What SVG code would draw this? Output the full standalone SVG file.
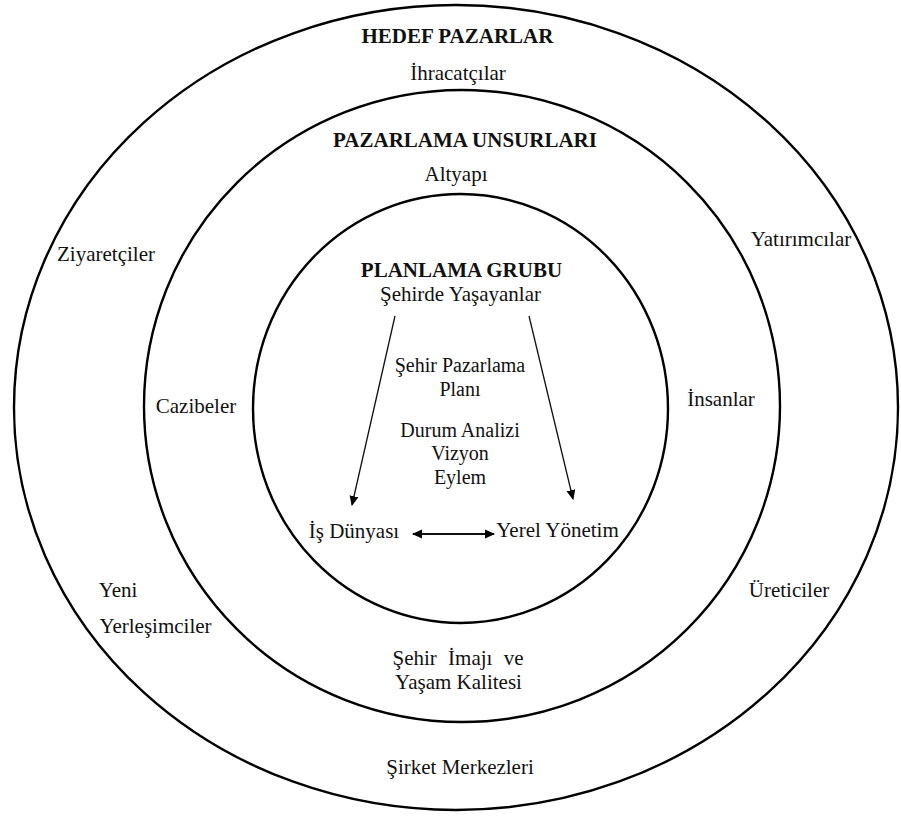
<svg xmlns="http://www.w3.org/2000/svg" width="901" height="816" viewBox="0 0 901 816">
<style>
.ring{fill:none;stroke:#000;stroke-width:2.4}
text{font-size:21px;fill:#111;text-anchor:middle}
.h{font-weight:bold}
.s{font-size:20px}
.ln{stroke:#111;stroke-width:1.3;fill:none}
.ln2{stroke:#111;stroke-width:2;fill:none}
</style>
<defs>
<marker id="ah" viewBox="0 0 10 10" refX="9" refY="5" markerWidth="10" markerHeight="10" markerUnits="userSpaceOnUse" orient="auto-start-reverse">
<path d="M0,0.5 L10,5 L0,9.5 Z" fill="#000"/>
</marker>
</defs>
<rect width="901" height="816" fill="#fff"/>
<g font-family="Liberation Serif, DejaVu Serif, serif">
<g id="outer">
<ellipse class="ring" cx="456" cy="407.5" rx="442" ry="402.5"/>
<text class="h" x="457.5" y="43">HEDEF PAZARLAR</text>
<text x="458" y="80">İhracatçılar</text>
<text x="106" y="261">Ziyaretçiler</text>
<text x="801" y="246">Yatırımcılar</text>
<text x="118" y="597">Yeni</text>
<text x="155.5" y="633">Yerleşimciler</text>
<text x="789" y="597">Üreticiler</text>
<text x="460" y="774">Şirket Merkezleri</text>
</g>
<g id="middle">
<ellipse class="ring" cx="462" cy="406" rx="318" ry="316"/>
<text class="h" x="465" y="147">PAZARLAMA UNSURLARI</text>
<text x="456" y="181">Altyapı</text>
<text x="196" y="413">Cazibeler</text>
<text x="721" y="406">İnsanlar</text>
<text x="458" y="665" word-spacing="6">Şehir İmajı ve</text>
<text x="458.5" y="689">Yaşam Kalitesi</text>
</g>
<g id="inner">
<ellipse class="ring" cx="460.5" cy="408.5" rx="207.5" ry="214.5"/>
<text class="h" x="461.5" y="277">PLANLAMA GRUBU</text>
<text x="460.5" y="301">Şehirde Yaşayanlar</text>
<text class="s" x="460" y="372">Şehir Pazarlama</text>
<text class="s" x="460" y="396">Planı</text>
<text class="s" x="460" y="437">Durum Analizi</text>
<text class="s" x="460" y="460">Vizyon</text>
<text class="s" x="460" y="484">Eylem</text>
<text x="354" y="538">İş Dünyası</text>
<text x="557.5" y="537">Yerel Yönetim</text>
</g>
</g>
<g id="connectors">
<line class="ln" x1="395" y1="316" x2="352" y2="505" marker-end="url(#ah)"/>
<line class="ln" x1="529" y1="316" x2="573" y2="499" marker-end="url(#ah)"/>
<line class="ln2" x1="413" y1="534" x2="494" y2="534" marker-start="url(#ah)" marker-end="url(#ah)"/>
</g>
</svg>
